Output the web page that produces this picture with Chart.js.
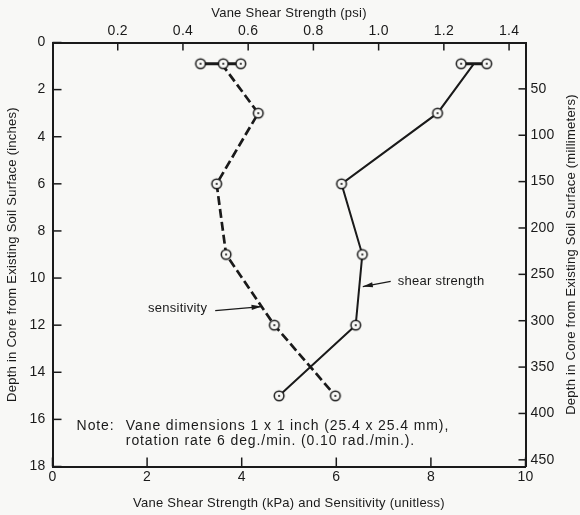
<!DOCTYPE html>
<html>
<head>
<meta charset="utf-8">
<script src="https://cdn.jsdelivr.net/npm/chart.js@4/dist/chart.umd.min.js"></script>
<style>
  html, body { margin: 0; padding: 0; background: #f8f8f6; }
  #wrap { width: 580px; height: 515px; }
</style>
</head>
<body>
<div id="wrap"><canvas id="chart" width="580" height="515"></canvas></div>
<script>
// Unit conversions for the secondary axes
const KPA_PER_PSI = 6.89476;
const MM_PER_INCH = 25.4;

// Repeat readings taken near the top of the core (depth in inches)
const topDepth = 0.9;
const sensTopReadings = [3.13, 3.61, 3.98];
const shearTopReadings = [8.64, 9.18];          // kPa

// Profile below the top readings
const depths = [3, 6, 9, 12, 15];               // inches
const sensitivity = [4.35, 3.47, 3.67, 4.69, 5.98];
const shearKPa = [8.14, 6.11, 6.55, 6.41, 4.79];

// Axis tick values
const kpaTicks = [0, 2, 4, 6, 8, 10];
const psiTicks = [0.2, 0.4, 0.6, 0.8, 1.0, 1.2, 1.4];
const inchTicks = [0, 2, 4, 6, 8, 10, 12, 14, 16, 18];
const mmTicks = [50, 100, 150, 200, 250, 300, 350, 400, 450];

const INK = '#1a1a1a';
const BG = '#f8f8f6';
const FONT = '"Liberation Sans", Arial, sans-serif';

const mean = a => a.reduce((s, v) => s + v, 0) / a.length;

// Open circle with a centre dot, used for every measured point
function ringDot() {
  const c = document.createElement('canvas');
  c.width = 14; c.height = 14;
  const g = c.getContext('2d');
  g.beginPath(); g.arc(7, 7, 4.8, 0, Math.PI * 2);
  g.fillStyle = BG; g.fill();
  g.lineWidth = 1.5; g.strokeStyle = INK; g.stroke();
  g.beginPath(); g.arc(7, 7, 1.1, 0, Math.PI * 2);
  g.fillStyle = INK; g.fill();
  return c;
}
const marker = ringDot();

const rowAt = (xs, y) => xs.map(x => ({ x, y }));
const profile = (start, xs) => [{ x: start, y: topDepth }].concat(xs.map((x, i) => ({ x, y: depths[i] })));
const profileRadii = [0].concat(depths.map(() => 5));

const datasets = [
  { label: 'shear top', data: rowAt(shearTopReadings, topDepth), borderColor: INK, borderWidth: 3,
    pointStyle: marker, pointRadius: 5, order: 1 },
  { label: 'shear strength', data: profile(mean(shearTopReadings), shearKPa), borderColor: INK, borderWidth: 2,
    pointStyle: marker, pointRadius: profileRadii, order: 2 },
  { label: 'sensitivity top', data: rowAt(sensTopReadings, topDepth), borderColor: INK, borderWidth: 3,
    pointStyle: marker, pointRadius: 5, order: 1 },
  { label: 'sensitivity', data: profile(mean(sensTopReadings), sensitivity), borderColor: INK, borderWidth: 2.7,
    borderDash: [9, 4], pointStyle: marker, pointRadius: profileRadii, order: 2 }
];

const tickFont = { family: FONT, size: 14 };
const titleFont = { family: FONT, size: 13 };
const noGrid = { drawOnChartArea: false, drawTicks: false };
const frame = { display: true, width: 2, color: INK };
const fixedTicks = list => scale => { scale.ticks = list.map(v => ({ value: v })); };

// Inward tick marks, annotations and the note
const decorations = {
  id: 'decorations',
  beforeDraw(chart) {
    chart.ctx.letterSpacing = '0.25px';
  },
  afterDraw(chart) {
    const { ctx, chartArea: a, scales } = chart;
    const sx = scales.x, sy = scales.y;
    ctx.save();
    ctx.strokeStyle = INK; ctx.fillStyle = INK; ctx.lineWidth = 1.5;

    const marks = [
      { s: scales.x, vals: kpaTicks, len: 9 },
      { s: scales.x2, vals: psiTicks, len: 8 },
      { s: scales.y, vals: inchTicks, len: 9 },
      { s: scales.y2, vals: mmTicks, len: 7 }
    ];
    marks.forEach(({ s, vals, len }) => {
      vals.forEach(v => {
        const p = s.getPixelForValue(v);
        ctx.beginPath();
        if (s.position === 'bottom') { ctx.moveTo(p, a.bottom); ctx.lineTo(p, a.bottom - len); }
        else if (s.position === 'top') { ctx.moveTo(p, a.top); ctx.lineTo(p, a.top + len); }
        else if (s.position === 'left') { ctx.moveTo(a.left, p); ctx.lineTo(a.left + len, p); }
        else { ctx.moveTo(a.right, p); ctx.lineTo(a.right - len, p); }
        ctx.stroke();
      });
    });

    const arrow = (x0, y0, x1, y1) => {
      const X0 = sx.getPixelForValue(x0), Y0 = sy.getPixelForValue(y0);
      const X1 = sx.getPixelForValue(x1), Y1 = sy.getPixelForValue(y1);
      const ang = Math.atan2(Y1 - Y0, X1 - X0);
      ctx.lineWidth = 1.3;
      ctx.beginPath(); ctx.moveTo(X0, Y0); ctx.lineTo(X1, Y1); ctx.stroke();
      ctx.beginPath();
      ctx.moveTo(X1, Y1);
      ctx.lineTo(X1 - 10 * Math.cos(ang) + 2.6 * Math.sin(ang), Y1 - 10 * Math.sin(ang) - 2.6 * Math.cos(ang));
      ctx.lineTo(X1 - 10 * Math.cos(ang) - 2.6 * Math.sin(ang), Y1 - 10 * Math.sin(ang) + 2.6 * Math.cos(ang));
      ctx.closePath(); ctx.fill();
    };
    const label = (text, x, y, align) => {
      ctx.textAlign = align; ctx.textBaseline = 'middle';
      ctx.fillText(text, sx.getPixelForValue(x), sy.getPixelForValue(y));
    };

    ctx.font = '13px ' + FONT;
    ctx.letterSpacing = '0.25px';
    label('sensitivity', 3.27, 11.3, 'right');
    arrow(3.44, 11.38, 4.42, 11.21);
    label('shear strength', 7.30, 10.15, 'left');
    arrow(7.15, 10.14, 6.56, 10.36);

    ctx.font = '14px ' + FONT;
    ctx.letterSpacing = '0.9px';
    label('Note:', 0.51, 16.28, 'left');
    label('Vane dimensions 1 x 1 inch (25.4 x 25.4 mm),', 1.55, 16.28, 'left');
    label('rotation rate 6 deg./min. (0.10 rad./min.).', 1.55, 16.94, 'left');

    // right-hand axis title, reading upward like the left one
    ctx.font = '13px ' + FONT;
    ctx.letterSpacing = '0.25px';
    ctx.translate(571, (a.top + a.bottom) / 2);
    ctx.rotate(-Math.PI / 2);
    ctx.textAlign = 'center'; ctx.textBaseline = 'middle';
    ctx.fillText('Depth in Core from Existing Soil Surface (millimeters)', 0, 0);
    ctx.restore();
  }
};

new Chart(document.getElementById('chart'), {
  type: 'scatter',
  data: { datasets },
  options: {
    responsive: false,
    devicePixelRatio: 1,
    animation: false,
    showLine: true,
    layout: { padding: 0 },
    plugins: { legend: { display: false }, tooltip: { enabled: false } },
    scales: {
      x: {
        type: 'linear', position: 'bottom', min: 0, max: 10,
        afterBuildTicks: fixedTicks(kpaTicks),
        afterFit: s => { s.height = 48.5; },
        grid: noGrid, border: frame,
        ticks: { font: tickFont, color: INK, padding: 2, maxRotation: 0, autoSkip: false },
        title: { display: true, text: 'Vane Shear Strength (kPa) and Sensitivity (unitless)',
                 font: titleFont, color: INK, padding: { top: 0, bottom: 4 } }
      },
      x2: {
        type: 'linear', position: 'top', min: 0, max: 10 / KPA_PER_PSI,
        afterBuildTicks: fixedTicks(psiTicks),
        afterFit: s => { s.height = 42.5; },
        grid: noGrid, border: frame,
        ticks: { font: tickFont, color: INK, padding: 3, maxRotation: 0, autoSkip: false,
                 callback: v => v.toFixed(1) },
        title: { display: true, text: 'Vane Shear Strength (psi)',
                 font: titleFont, color: INK, padding: { top: 6, bottom: 0 } }
      },
      y: {
        type: 'linear', position: 'left', reverse: true, min: 0, max: 18,
        afterBuildTicks: fixedTicks(inchTicks),
        afterFit: s => { s.width = 52.5; },
        grid: noGrid, border: frame,
        ticks: { font: tickFont, color: INK, padding: 7, autoSkip: false },
        title: { display: true, text: 'Depth in Core from Existing Soil Surface (inches)',
                 font: titleFont, color: INK, padding: { top: 5, bottom: 0 } }
      },
      y2: {
        type: 'linear', position: 'right', reverse: true, min: 0, max: 18 * MM_PER_INCH,
        afterBuildTicks: fixedTicks(mmTicks),
        afterFit: s => { s.width = 54.5; },
        grid: noGrid, border: frame,
        ticks: { font: tickFont, color: INK, padding: 5, autoSkip: false }
      }
    }
  },
  plugins: [decorations]
});
</script>
</body>
</html>
